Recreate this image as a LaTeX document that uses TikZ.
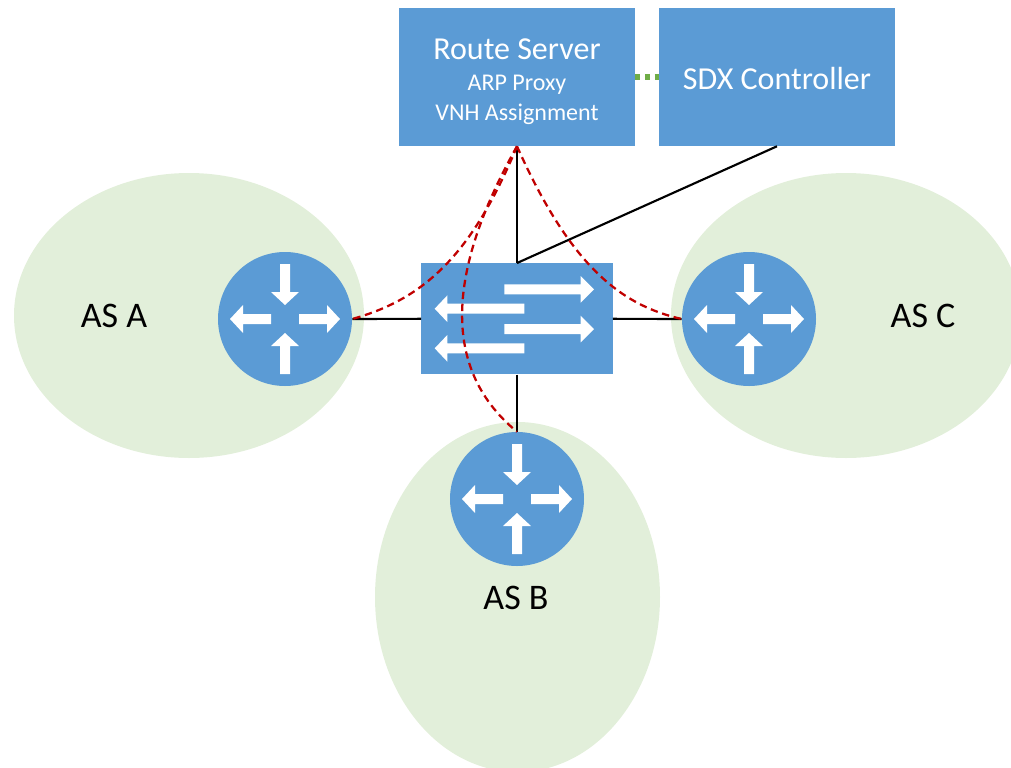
\documentclass[tikz,border=0pt]{standalone}
\usepackage{fontspec}
\setmainfont{Carlito}
\usetikzlibrary{shapes.geometric}
\definecolor{boxblue}{HTML}{5B9BD5}
\definecolor{asgreen}{HTML}{E2EFDA}
\definecolor{dashred}{HTML}{C00000}
\definecolor{dotgreen}{HTML}{70AD47}
\tikzset{
  x=0.75pt,y=-0.75pt,
  asarea/.style={ellipse,fill=asgreen,inner sep=0pt},
  router/.style={circle,fill=boxblue,inner sep=0pt,minimum size=100.5pt},
  bluebox/.style={rectangle,fill=boxblue,inner sep=0pt,text=white,align=center},
  big/.style={font=\fontsize{24}{24}\selectfont},
  small/.style={font=\fontsize{18}{18}\selectfont},
  aslabel/.style={font=\fontsize{27}{27}\selectfont,text=black},
  link/.style={draw=black,line width=1.6pt},
  session/.style={draw=dashred,line width=1.7pt,dash pattern=on 5.5pt off 3.5pt},
  ctrl/.style={draw=dotgreen,line width=3.8pt,dash pattern=on 3.7pt off 3.7pt},
  routerglyph/.pic={
    \fill[white] (14,-5)--(42,-5)--(42,-14)--(55,0)--(42,14)--(42,5)--(14,5)--cycle;
    \fill[white] (-14,-5)--(-42,-5)--(-42,-14)--(-55,0)--(-42,14)--(-42,5)--(-14,5)--cycle;
    \fill[white] (-5,-55)--(-5,-27)--(-14,-27)--(0,-14)--(14,-27)--(5,-27)--(5,-55)--cycle;
    \fill[white] (-5,55)--(-5,27)--(-14,27)--(0,14)--(14,27)--(5,27)--(5,55)--cycle;
  }
}
\begin{document}
\begin{tikzpicture}
\useasboundingbox (0,0) rectangle (1011,768);
\clip (0,0) rectangle (1011,768);
% AS areas
\node[asarea,minimum width=262.5pt,minimum height=213.75pt] (areaA) at (189,315.5) {};
\node[asarea,minimum width=262.5pt,minimum height=213.75pt] (areaC) at (846,315.5) {};
\node[asarea,minimum width=213.75pt,minimum height=262.5pt] (areaB) at (517.5,597) {};
\node[aslabel] (labelA) at (114,316) {AS A};
\node[aslabel] (labelC) at (923,316) {AS C};
\node[aslabel] (labelB) at (516,598) {AS B};
% boxes
\node[bluebox,minimum width=176.5pt,minimum height=103.5pt] (rs) at (517,77) {};
\node[bluebox,minimum width=176.5pt,minimum height=103.5pt] (sdx) at (777,77) {};
\node[bluebox,minimum width=143.5pt,minimum height=83.25pt] (sw) at (517,318.8) {};
\node[text=white,big] (rstitle) at (517,49.5) {Route Server};
\node[text=white,small] (rsarp) at (517,84.5) {ARP Proxy};
\node[text=white,small] (rsvnh) at (517,114) {VNH Assignment};
\node[text=white,big] (sdxtitle) at (777,78.5) {SDX Controller};
% routers
\node[router] (ra) at (285,319) {};
\node[router] (rc) at (749,319) {};
\node[router] (rb) at (517,499) {};
\pic at (ra.center) {routerglyph};
\pic at (rc.center) {routerglyph};
\pic at (rb.center) {routerglyph};
% switch arrows
\fill[white] (504.3,284.3)--(580.7,284.3)--(580.7,276)--(594,289.3)--(580.7,302.6)--(580.7,294.3)--(504.3,294.3)--cycle;
\fill[white] (504.3,324)--(580.7,324)--(580.7,315.7)--(594,329)--(580.7,342.3)--(580.7,334)--(504.3,334)--cycle;
\fill[white] (524.3,303.7)--(447.3,303.7)--(447.3,295.4)--(434.7,308.7)--(447.3,322)--(447.3,313.7)--(524.3,313.7)--cycle;
\fill[white] (524.3,343.3)--(447.3,343.3)--(447.3,335)--(434.7,348.3)--(447.3,361.6)--(447.3,353.3)--(524.3,353.3)--cycle;
% links
\draw[link] (ra.east) -- (sw.west);
\draw[link] (sw.east) -- (rc.west);
\draw[link] (sw.south) -- (rb.north);
\draw[link] (rs.south) -- (sw.north);
\draw[link] (sdx.south) -- (sw.north);
\draw[ctrl] (rs.east) -- (sdx.west);
% BGP sessions
\draw[session] (rs.south) .. controls (470,260) and (420,300) .. (ra.east);
\draw[session] (rs.south) .. controls (570,265) and (620,305) .. (rc.west);
\draw[session] (rs.south) .. controls (452,262) and (436,365) .. (rb.north);
\end{tikzpicture}
\end{document}
